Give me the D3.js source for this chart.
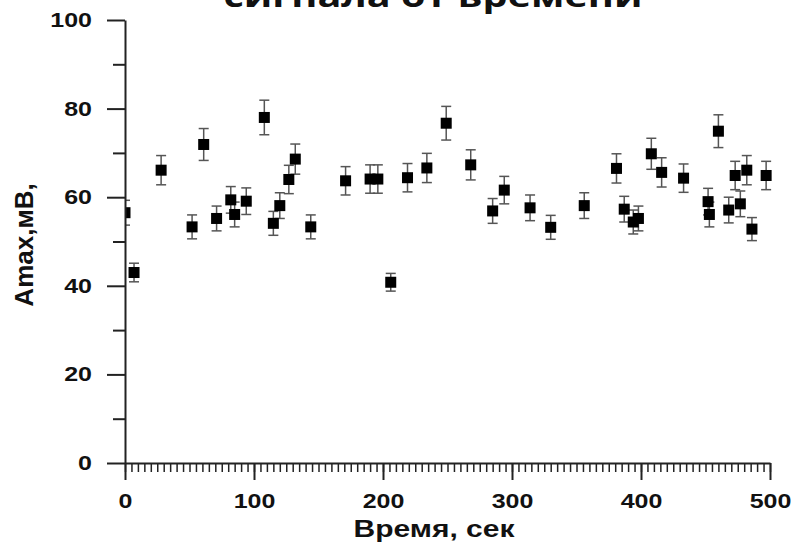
<!DOCTYPE html>
<meta charset="utf-8">
<script src="https://d3js.org/d3.v7.min.js"></script>
<style>
  body { margin: 0; background: #fff; }
  text { font-family: "Liberation Sans", Arial, sans-serif; font-weight: bold; fill: #111; }
</style>
<svg id="my_dataviz" width="796" height="544"></svg>

<script>

// Data
var time = [0, 7, 28, 52, 61, 71, 82, 85, 94, 108, 115, 120, 127, 132, 144, 171, 190, 196, 206, 219,
            234, 249, 268, 285, 294, 314, 330, 356, 381, 387, 394, 398, 408, 416, 433, 452, 453, 460, 468, 473,
            477, 482, 486, 497];
var amax = [56.5, 43.0, 66.1, 53.3, 71.9, 55.2, 59.4, 56.1, 59.1, 78.0, 54.1, 58.1, 64.0, 68.6, 53.3, 63.7, 64.1, 64.1, 40.8, 64.4,
            66.6, 76.7, 67.3, 56.9, 61.6, 57.6, 53.2, 58.1, 66.5, 57.3, 54.4, 55.2, 69.8, 65.6, 64.3, 59.0, 56.1, 74.9, 57.1, 64.9,
            58.5, 66.1, 52.8, 64.9];
var err  = [2.8, 2.1, 3.3, 2.7, 3.6, 2.8, 3.0, 2.8, 3.0, 3.9, 2.7, 2.9, 3.2, 3.4, 2.7, 3.2, 3.2, 3.2, 2.0, 3.2,
            3.3, 3.8, 3.4, 2.8, 3.1, 2.9, 2.7, 2.9, 3.3, 2.9, 2.7, 2.8, 3.5, 3.3, 3.2, 3.0, 2.8, 3.7, 2.9, 3.2,
            2.9, 3.3, 2.6, 3.2];

var xTicks = [0, 100, 200, 300, 400, 500];
var yTicks = [0, 20, 40, 60, 80, 100];
var title = "сигнала от времени";
var xTitle = "Время, сек";
var yTitle = "Amax,мВ,";

var svg = d3.select("svg");

var x = d3.scaleLinear().domain([0, 500]).range([125, 770]);
var y = d3.scaleLinear().domain([0, 100]).range([463, 20]);

var points = time.map(function(t, i){ return { t: t, v: amax[i], e: err[i] } });

// clip so the first marker is cut at the y axis
svg.append("clipPath").attr("id", "plot")
  .append("rect").attr("x", 125).attr("y", 0).attr("width", 680).attr("height", 463);

var plot = svg.append("g").attr("clip-path", "url(#plot)");

// error bars
var eb = plot.selectAll("g.eb").data(points).enter().append("g")
    .attr("stroke", "#555").attr("stroke-width", 1.5);
eb.append("line")
    .attr("x1", function(d){ return x(d.t) }).attr("x2", function(d){ return x(d.t) })
    .attr("y1", function(d){ return y(d.v + d.e) }).attr("y2", function(d){ return y(d.v - d.e) });
[1, -1].forEach(function(s){
  eb.append("line")
    .attr("x1", function(d){ return x(d.t) - 5 }).attr("x2", function(d){ return x(d.t) + 5 })
    .attr("y1", function(d){ return y(d.v + s * d.e) }).attr("y2", function(d){ return y(d.v + s * d.e) });
});

// square markers
plot.selectAll("rect.pt").data(points).enter().append("rect")
    .attr("x", function(d){ return x(d.t) - 5.5 })
    .attr("y", function(d){ return y(d.v) - 5.5 })
    .attr("width", 11).attr("height", 11)
    .attr("fill", "#000");

// minor ticks
svg.append("g").attr("transform", "translate(0,463)")
  .call(d3.axisBottom(x).tickValues(d3.range(0, 501, 5)).tickSize(9).tickFormat(""))
  .call(function(g){ g.select(".domain").remove() })
  .selectAll("line").attr("stroke", "#222").attr("stroke-width", 1.5);
svg.append("g").attr("transform", "translate(125,0)")
  .call(d3.axisLeft(y).tickValues(d3.range(10, 100, 20)).tickSize(12).tickFormat(""))
  .call(function(g){ g.select(".domain").remove() })
  .selectAll("line").attr("stroke", "#222").attr("stroke-width", 2);

// x axis (labels stretched a bit wider, like the picture)
var xa = svg.append("g").attr("transform", "translate(0,463)")
  .call(d3.axisBottom(x).tickValues(xTicks).tickSize(17).tickSizeOuter(0).tickPadding(14));
xa.select(".domain").attr("stroke", "#222").attr("stroke-width", 2);
xa.selectAll("line").attr("stroke", "#222").attr("stroke-width", 2);
xa.selectAll("text").attr("font-size", 20).attr("fill", "#111")
  .attr("transform", "scale(1.25,1)");

// y axis
var ya = svg.append("g").attr("transform", "translate(125,0)")
  .call(d3.axisLeft(y).tickValues(yTicks).tickSize(18).tickSizeOuter(0).tickPadding(15));
ya.select(".domain").attr("stroke", "#222").attr("stroke-width", 2);
ya.selectAll("line").attr("stroke", "#222").attr("stroke-width", 2);
ya.selectAll("text").attr("font-size", 20).attr("fill", "#111")
  .attr("x", -33 / 1.25)
  .attr("transform", "scale(1.25,1)");

// titles
svg.append("text")
    .attr("transform", "translate(433,7) scale(1.32,1)")
    .attr("text-anchor", "middle")
    .style("font-family", "'Open Sans', sans-serif")
    .attr("font-size", 30)
    .text(title);

svg.append("text")
    .attr("transform", "translate(434,537) scale(1.25,1)")
    .attr("text-anchor", "middle")
    .attr("font-size", 24)
    .text(xTitle);

svg.append("text")
    .attr("transform", "translate(33,245) rotate(-90)")
    .attr("text-anchor", "middle")
    .attr("font-size", 26)
    .text(yTitle);

</script>
